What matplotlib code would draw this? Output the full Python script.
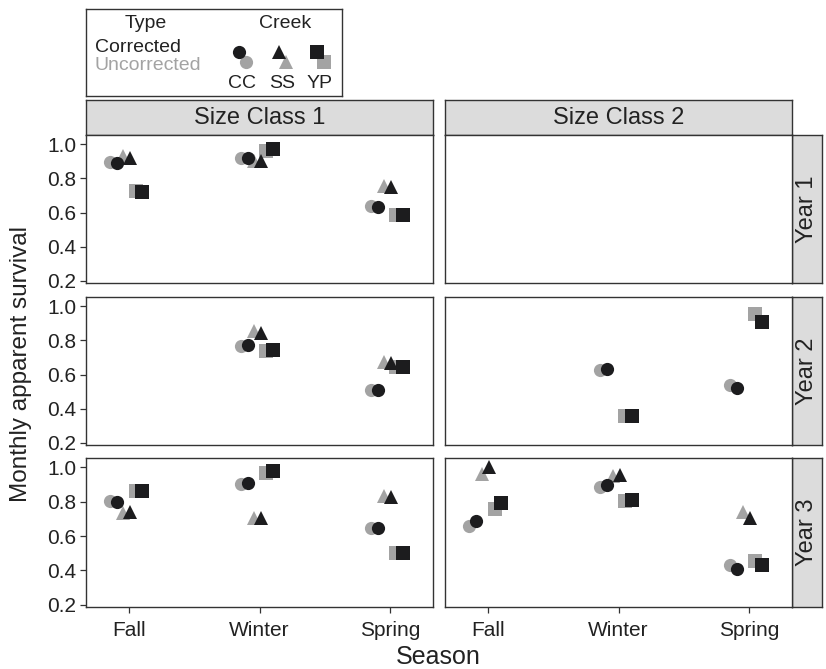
import numpy as np
import matplotlib
matplotlib.use("Agg")
import matplotlib.pyplot as plt

plt.rcParams["font.family"] = ["Liberation Sans", "DejaVu Sans"]

seasons = ["Fall", "Winter", "Spring"]
creeks = ["CC", "SS", "YP"]
years = ["Year 1", "Year 2", "Year 3"]
size_classes = ["Size Class 1", "Size Class 2"]
nan = np.nan

# survival[(year, size class)] -> rows CC, SS, YP ; columns Fall, Winter, Spring
corrected = {
    (0, 0): [[0.89, 0.92, 0.635], [0.92, 0.90, 0.75], [0.72, 0.97, 0.585]],
    (0, 1): [[nan, nan, nan], [nan, nan, nan], [nan, nan, nan]],
    (1, 0): [[nan, 0.775, 0.51], [nan, 0.845, 0.665], [nan, 0.745, 0.645]],
    (1, 1): [[nan, 0.632, 0.522], [nan, nan, nan], [nan, 0.36, 0.907]],
    (2, 0): [[0.80, 0.909, 0.648], [0.739, 0.706, 0.826], [0.86, 0.977, 0.50]],
    (2, 1): [[0.687, 0.894, 0.407], [1.0, 0.957, 0.706], [0.79, 0.81, 0.432]],
}
uncorrected = {
    (0, 0): [[0.895, 0.92, 0.64], [0.93, 0.90, 0.755], [0.725, 0.96, 0.585]],
    (0, 1): [[nan, nan, nan], [nan, nan, nan], [nan, nan, nan]],
    (1, 0): [[nan, 0.765, 0.51], [nan, 0.855, 0.672], [nan, 0.74, 0.645]],
    (1, 1): [[nan, 0.624, 0.537], [nan, nan, nan], [nan, 0.358, 0.955]],
    (2, 0): [[0.803, 0.90, 0.648], [0.735, 0.706, 0.832], [0.861, 0.967, 0.503]],
    (2, 1): [[0.658, 0.884, 0.432], [0.961, 0.948, 0.739], [0.755, 0.803, 0.455]],
}

markers = ["o", "^", "s"]
msizes = [9.5, 10, 9.5]
dodge_cor = [-0.09, 0.01, 0.10]
dodge_unc = [-0.145, -0.045, 0.05]
black = "#1c1c1e"
grey = "#a3a3a3"
edge = "#333333"
textc = "#222222"

W, H = 826, 669
fig = plt.figure(figsize=(W / 100, H / 100), dpi=100)


def px_axes(x0, y0, x1, y1):
    return fig.add_axes([x0 / W, 1 - y1 / H, (x1 - x0) / W, (y1 - y0) / H])


def strip(ax, label, rotation=0):
    ax.set_facecolor("#dcdcdc")
    ax.set_xticks([])
    ax.set_yticks([])
    for s in ax.spines.values():
        s.set_color(edge)
        s.set_linewidth(1.0)
    ax.text(0.5, 0.5, label, transform=ax.transAxes, ha="center", va="center",
            fontsize=17, color=textc, rotation=rotation)


cols = [(86, 433), (445, 792)]
rows = [(135, 283), (297, 445), (458, 607)]
x = np.arange(1, 4)

for j, (cx0, cx1) in enumerate(cols):
    strip(px_axes(cx0, 100, cx1, 135), size_classes[j])

for i, (ry0, ry1) in enumerate(rows):
    strip(px_axes(792, ry0, 822, ry1), years[i], rotation=90)
    for j, (cx0, cx1) in enumerate(cols):
        ax = px_axes(cx0, ry0, cx1, ry1)
        cor = np.array(corrected[(i, j)])
        unc = np.array(uncorrected[(i, j)])
        for k in range(3):
            ax.plot(x + dodge_unc[k], unc[k], linestyle="none", marker=markers[k],
                    ms=msizes[k], color=grey, markeredgewidth=0)
        for k in range(3):
            ax.plot(x + dodge_cor[k], cor[k], linestyle="none", marker=markers[k],
                    ms=msizes[k], color=black, markeredgewidth=0)
        ax.set_xlim(0.67, 3.33)
        ax.set_ylim(0.188, 1.053)
        for s in ax.spines.values():
            s.set_color(edge)
            s.set_linewidth(1.0)
        ax.tick_params(colors=edge, labelcolor=textc, labelsize=15,
                       length=4, width=0.9, pad=3)
        ax.set_yticks([0.2, 0.4, 0.6, 0.8, 1.0])
        ax.set_xticks(x)
        if j == 0:
            ax.set_yticklabels(["0.2", "0.4", "0.6", "0.8", "1.0"])
        else:
            ax.tick_params(axis="y", left=False, labelleft=False)
        if i == 2:
            ax.set_xticklabels(seasons)
            ax.tick_params(axis="x", pad=6)
        else:
            ax.tick_params(axis="x", bottom=False, labelbottom=False)

fig.text(21 / W, 1 - 364 / H, "Monthly apparent survival", rotation=90,
         ha="center", va="center", fontsize=17.5, color=textc)
fig.text(438 / W, 1 - 657 / H, "Season", ha="center", va="center",
         fontsize=18, color=textc)

# legend box drawn in its own axes, measured in pixels
lg = px_axes(86, 9, 342, 96)
lg.set_xlim(86, 342)
lg.set_ylim(96, 9)
lg.set_xticks([])
lg.set_yticks([])
for s in lg.spines.values():
    s.set_color(edge)
    s.set_linewidth(1.0)
fs = 14
lg.text(146, 24, "Type", ha="center", va="center", fontsize=fs, color=textc)
lg.text(285, 24, "Creek", ha="center", va="center", fontsize=fs, color=textc)
lg.text(95, 48, "Corrected", ha="left", va="center", fontsize=fs, color=textc)
lg.text(95, 66, "Uncorrected", ha="left", va="center", fontsize=fs, color=grey)
key_x = [239, 279, 317]
for k in range(3):
    lg.plot(key_x[k] + 7, 62, marker=markers[k], ms=msizes[k], color=grey,
            markeredgewidth=0)
    lg.plot(key_x[k], 52, marker=markers[k], ms=msizes[k], color=black,
            markeredgewidth=0)
    lg.text(key_x[k] + 3, 83, creeks[k], ha="center", va="center",
            fontsize=fs, color=textc)

fig.savefig("out.png", dpi=100)
